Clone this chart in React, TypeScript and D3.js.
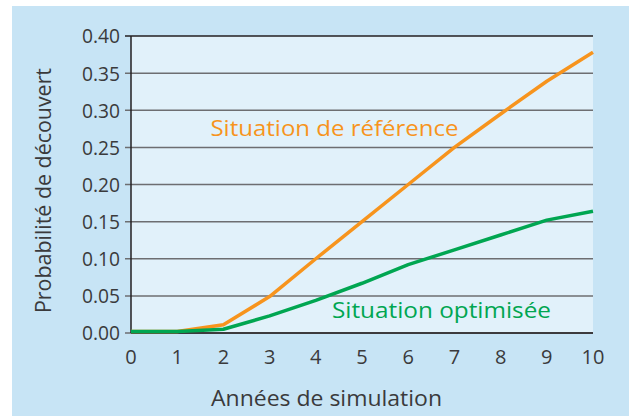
import React from "react";
import * as d3 from "d3";

// years of simulation
const years = [0, 1, 2, 3, 4, 5, 6, 7, 8, 9, 10];
// probability of overdraft, reference situation
const reference = [0.002, 0.002, 0.011, 0.049, 0.1, 0.15, 0.2, 0.25, 0.295, 0.339, 0.378];
// probability of overdraft, optimised situation
const optimised = [0.002, 0.002, 0.005, 0.023, 0.044, 0.067, 0.092, 0.112, 0.132, 0.152, 0.164];
const yTicks = [0, 0.05, 0.1, 0.15, 0.2, 0.25, 0.3, 0.35, 0.4];

const width = 629,
  height = 416,
  margin = { top: 36, right: 36, bottom: 83, left: 131 };

const font = "'Open Sans', 'Noto Sans', sans-serif";
const textColor = "#3a3a3c";

const App: React.FC = () => {
  const x = d3
    .scaleLinear()
    .domain([0, 10])
    .range([margin.left, width - margin.right]);
  const y = d3
    .scaleLinear()
    .domain([0, 0.4])
    .range([height - margin.bottom, margin.top]);

  const line = d3
    .line<number>()
    .x((d, i) => x(years[i]))
    .y((d) => y(d));

  return (
    <div style={{ position: "absolute", left: 0, top: 0 }}>
      <svg width={width} height={height} style={{ display: "block" }}>
        <rect x={0} y={0} width={width} height={height} fill="#ffffff" />
        <rect x={12} y={6} width={width - 12} height={height - 6} fill="#c7e4f5" />
        <rect
          x={x(0)}
          y={y(0.4)}
          width={x(10) - x(0)}
          height={y(0) - y(0.4)}
          fill="#e1f1fa"
        />
        {yTicks.map((t) => (
          <g key={t}>
            <line
              x1={x(0) - 6}
              x2={x(10)}
              y1={y(t)}
              y2={y(t)}
              stroke={t === 0.4 ? "#231f20" : "#6d6e71"}
              strokeWidth={1.5}
            />
            <text
              x={x(0) - 11}
              y={y(t)}
              dy="0.36em"
              textAnchor="end"
              fontFamily={font}
              fontSize={20.5}
              fill={textColor}
              textLength={38}
              lengthAdjust="spacingAndGlyphs"
            >
              {t.toFixed(2)}
            </text>
          </g>
        ))}
        <line x1={x(0)} x2={x(0)} y1={y(0.4)} y2={y(0)} stroke="#231f20" strokeWidth={1.5} />
        <line x1={x(0)} x2={x(10)} y1={y(0)} y2={y(0)} stroke="#231f20" strokeWidth={1.5} />
        {years.map((v) => (
          <text
            key={v}
            x={x(v)}
            y={y(0) + 31}
            textAnchor="middle"
            fontFamily={font}
            fontSize={20}
            fill={textColor}
          >
            {v}
          </text>
        ))}
        <path
          d={line(reference) || ""}
          fill="none"
          stroke="#f7941d"
          strokeWidth={3.5}
          strokeLinejoin="round"
        />
        <path
          d={line(optimised) || ""}
          fill="none"
          stroke="#00a651"
          strokeWidth={3.5}
          strokeLinejoin="round"
        />
        <text
          x={x(1.72)}
          y={y(0.265)}
          fontFamily={font}
          fontSize={21.5}
          fill="#f7941d"
          textLength={248}
          lengthAdjust="spacingAndGlyphs"
        >
          Situation de référence
        </text>
        <text
          x={x(4.35)}
          y={y(0.02)}
          fontFamily={font}
          fontSize={21.5}
          fill="#00a651"
          textLength={219}
          lengthAdjust="spacingAndGlyphs"
        >
          Situation optimisée
        </text>
        <text
          x={211}
          y={406}
          fontFamily={font}
          fontSize={22.5}
          fill={textColor}
          textLength={231}
          lengthAdjust="spacingAndGlyphs"
        >
          Années de simulation
        </text>
        <text
          transform={`translate(51,313) rotate(-90)`}
          fontFamily={font}
          fontSize={22.5}
          fill={textColor}
          textLength={245}
          lengthAdjust="spacingAndGlyphs"
        >
          Probabilité de découvert
        </text>
      </svg>
    </div>
  );
};

export default App;
